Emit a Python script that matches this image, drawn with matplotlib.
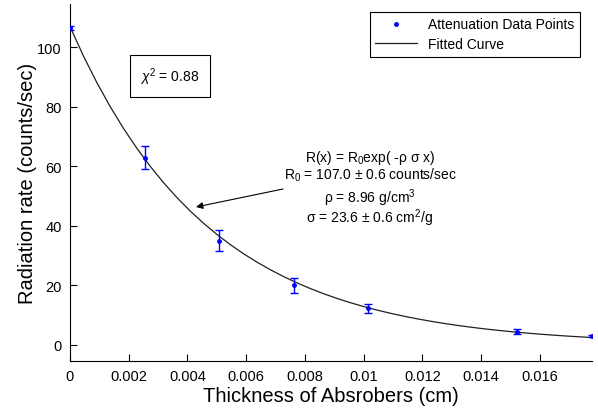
import matplotlib
matplotlib.use('Agg')
import matplotlib.pyplot as plt
import numpy as np

plt.rcParams['font.family'] = ['Liberation Sans', 'DejaVu Sans']
plt.rcParams['mathtext.fontset'] = 'custom'
plt.rcParams['mathtext.rm'] = 'Liberation Sans'
plt.rcParams['mathtext.it'] = 'Liberation Sans:italic'

# dados
espessura = [0.0, 0.00254, 0.00508, 0.00762, 0.01016, 0.01524, 0.01778]
taxa = [106.6, 63.0, 35.1, 20.1, 12.3, 4.5, 2.9]
erro = [0.6, 3.9, 3.4, 2.5, 1.6, 0.8, 0.3]

# parametros do ajuste (do texto do grafico)
R0 = 107.0
rho = 8.96
sigma = 23.6

xticks = [0, 0.002, 0.004, 0.006, 0.008, 0.01, 0.012, 0.014, 0.016]
xticklabels = ['0', '0.002', '0.004', '0.006', '0.008', '0.01', '0.012', '0.014', '0.016']
yticks = [0, 20, 40, 60, 80, 100]

fig = plt.figure(figsize=(5.98, 4.10), dpi=100)
ax = fig.add_axes([70/598, 48/410, 522/598, 357/410])

# curva ajustada
x = np.linspace(0, espessura[-1], 40)
ax.plot(x, R0*np.exp(-rho*sigma*x), color='#202020', linewidth=0.9, label='Fitted Curve', zorder=2)

# pontos com barras de erro
ax.errorbar(espessura, taxa, yerr=erro, fmt='none', ecolor='blue', elinewidth=1,
            capsize=3, capthick=1, zorder=3)
ax.plot(espessura, taxa, 'b.', markersize=5, label='Attenuation Data Points', zorder=4)

ax.set_xlim(0, espessura[-1])
ax.set_ylim(-5.4, 114.6)
ax.set_xticks(xticks)
ax.set_xticklabels(xticklabels)
ax.set_yticks(yticks)
ax.tick_params(direction='in', length=5, width=0.8, labelsize=10.5, pad=6)
ax.spines['top'].set_visible(False)
ax.spines['right'].set_visible(False)

ax.set_xlabel('Thickness of Absrobers (cm)', fontsize=14.5, labelpad=2)
ax.set_ylabel('Radiation rate (counts/sec)', fontsize=14.5, labelpad=0)

# legenda na ordem do original
h, l = ax.get_legend_handles_labels()
leg = ax.legend(h[::-1], l[::-1], loc='upper right', bbox_to_anchor=(0.977, 0.978),
                borderaxespad=0, fancybox=False, edgecolor='black', fontsize=10,
                handlelength=3.0, framealpha=1, borderpad=0.4, labelspacing=0.4)
leg.get_frame().set_linewidth(0.8)

# caixa do chi quadrado
fig.text(170/598, 1 - 77/410, r'$\chi^2$ = 0.88', fontsize=10, ha='center', va='center',
         bbox=dict(boxstyle='square,pad=0.75', facecolor='white', edgecolor='black', linewidth=0.8))

# texto do ajuste
cx = 370/598
fs = 10
fig.text(cx, 1 - 162/410, r'R(x) = R$_0$exp( -ρ σ x)', fontsize=fs, ha='center', va='baseline')
fig.text(cx, 1 - 180/410, r'R$_0$ = 107.0 ± 0.6 counts/sec', fontsize=fs, ha='center', va='baseline')
fig.text(cx, 1 - 203/410, r'ρ = 8.96 g/cm$^3$', fontsize=fs, ha='center', va='baseline')
fig.text(cx, 1 - 223/410, r'σ = 23.6 ± 0.6 cm$^2$/g', fontsize=fs, ha='center', va='baseline')

# seta
ax.annotate('', xy=(196/598, 1 - 208/410), xytext=(283/598, 1 - 190/410),
            xycoords='figure fraction', textcoords='figure fraction',
            arrowprops=dict(arrowstyle='-|>', color='black', lw=0.8,
                            mutation_scale=10, shrinkA=0, shrinkB=0))

fig.savefig('out.png', dpi=100)
